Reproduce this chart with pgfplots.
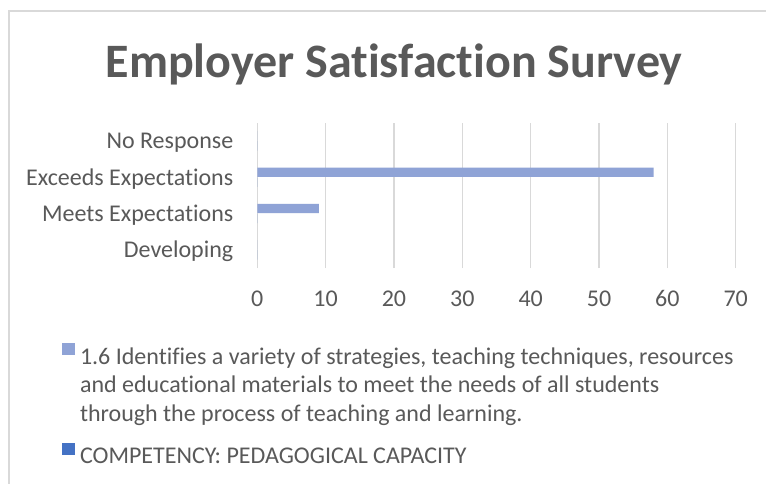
\documentclass[border=0pt]{standalone}
\usepackage{pgfplots}
\pgfplotsset{compat=1.18}
\usepackage{fontspec}
\setmainfont{Carlito}[Ligatures=NoCommon]
\definecolor{txtgray}{HTML}{595959}
\definecolor{gridgray}{HTML}{D9D9D9}
\definecolor{framegray}{HTML}{D9D9D9}
\definecolor{barone}{HTML}{8FA3D6}
\definecolor{bartwo}{HTML}{4472C4}
\begin{document}
\begin{tikzpicture}
\fill[white] (0,0) rectangle (574.5pt,-362.25pt);
\useasboundingbox (0,0) rectangle (574.5pt,-362.25pt);
\draw[framegray, line width=1.5pt] (6.6pt,-370pt) -- (6.6pt,-8pt) -- (580pt,-8pt);
\node[anchor=base, text=txtgray, font=\bfseries\fontsize{36}{40}\selectfont] at (295.5pt,-57.98pt) {Employer Satisfaction Survey};
\begin{axis}[
  at={(192.98pt,-201pt)}, anchor=south west,
  scale only axis, width=358.8pt, height=109pt,
  xbar, bar width=7pt,
  xmin=0, xmax=70, ymin=-0.5, ymax=3.5,
  xtick={0,10,...,70}, ytick={0,1,2,3},
  yticklabels={Developing, Meets Expectations, Exceeds Expectations, No Response},
  xmajorgrids, grid style={draw=gridgray, line width=1.1pt},
  axis line style={draw=none}, major tick length=0pt,
  /pgf/number format/assume math mode=true,
  ticklabel style={text=txtgray, font=\fontsize{18}{21}\selectfont, inner sep=0pt},
  xticklabel style={anchor=base, yshift=-29pt},
  yticklabel style={anchor=base east, xshift=-17.85pt, yshift=-5.9pt},
  legend style={at={(-0.4089,-0.515)}, anchor=north west, draw=none, fill=none,
    inner sep=0pt, text=txtgray, font=\fontsize{18}{21.4}\selectfont,
    cells={anchor=base west}, nodes={inner sep=0pt}, column sep=3.75pt, row sep=57.8pt},
  legend cell align=left,
  legend image code/.code={\fill[#1] (0pt,1.2pt) rectangle (9.8pt,10.3pt);},
]
\addplot[fill=barone, draw=none, bar shift=3.75pt] coordinates {(0,0) (9,1) (58,2) (0,3)};
\addplot[fill=bartwo, draw=none, bar shift=-3.75pt] coordinates {(0,0) (0,1) (0,2) (0,3)};
\legend{{\parbox[t]{500pt}{1.6 Identifies a variety of strategies, teaching techniques, resources\\and educational materials to meet the needs of all students\\through the process of teaching and learning.}}, {COMPETENCY: PEDAGOGICAL CAPACITY}}
\end{axis}
\end{tikzpicture}
\end{document}
